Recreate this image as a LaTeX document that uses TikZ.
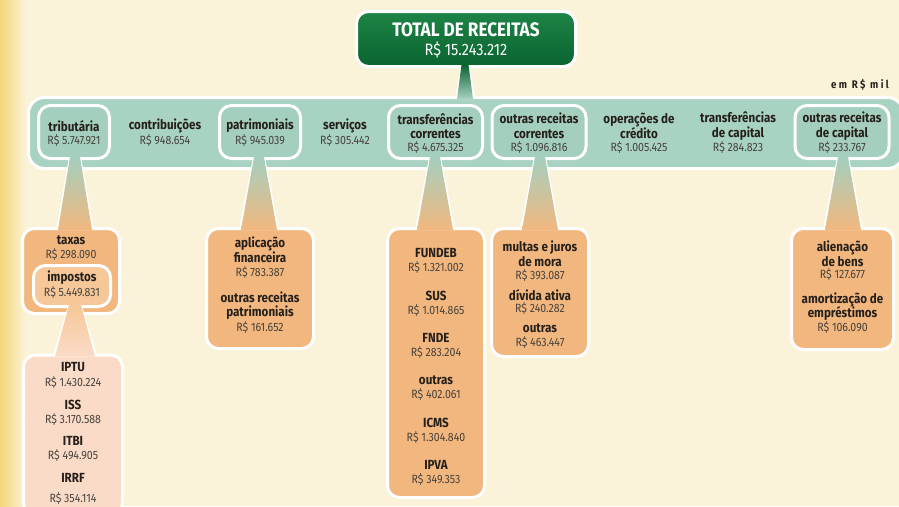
\documentclass[tikz,border=0pt]{standalone}
\usepackage{fontspec}
\setmainfont{Fira Sans}
\newfontfamily\rcfont{Fira Sans}[FakeStretch=0.88]
\usetikzlibrary{calc}
\definecolor{rc_paper}{RGB}{251, 243, 217}
\definecolor{rc_yellow}{RGB}{245, 214, 122}
\definecolor{rc_green}{RGB}{30, 132, 70}
\definecolor{rc_dkgreen}{RGB}{10, 100, 48}
\definecolor{rc_teal}{RGB}{168, 210, 194}
\definecolor{rc_pill}{RGB}{164, 207, 190}
\definecolor{rc_orange}{RGB}{242, 183, 127}
\definecolor{rc_lorange}{RGB}{246, 199, 152}
\definecolor{rc_pink}{RGB}{250, 219, 199}
\definecolor{rc_ink}{RGB}{38, 32, 26}
\tikzstyle{pill}=[rectangle,rounded corners=12pt,fill=rc_pill,draw=white,
  line width=3pt,minimum height=53pt]
\tikzstyle{sub}=[rectangle,rounded corners=12pt,fill=rc_orange,draw=white,
  line width=3pt]
\tikzstyle{lbl}=[inner sep=0pt,align=center,text=rc_ink,
  font=\rcfont\bfseries\fontsize{13.2}{14.5}\selectfont]
\tikzstyle{val}=[inner sep=0pt,text=rc_ink!85,
  font=\rcfont\fontsize{12}{14}\selectfont]
% wedge between two boxes: from, to, x, top half width, bottom half width
\newcommand\funnelpath[6]{let \p1=(#1.south), \p2=(#2.north) in
  ({(#3-#4)*1pt},{\y1+#6}) -- ({(#3+#4)*1pt},{\y1+#6}) --
  ({(#3+#5)*1pt},{\y2-#6}) -- ({(#3-#5)*1pt},{\y2-#6}) -- cycle}
\newcommand\funnel[7]{%
  \path[draw=white,line width=3pt,top color=#6,bottom color=#7]
    \funnelpath{#1}{#2}{#3}{#4}{#5}{0pt};
  \path[top color=#6,bottom color=#7] \funnelpath{#1}{#2}{#3}{#4}{#5}{3pt};}

\begin{document}
\begin{tikzpicture}[x=1pt,y=-1pt]
    \useasboundingbox (0,0) rectangle (899,506);
    \fill[rc_paper] (0,0) rectangle (899,506);
    \shade[left color=rc_yellow,right color=rc_paper] (0,0) rectangle (26,506);
    % boxes
    \node [rectangle,rounded corners=16pt,fill=rc_teal,draw=white,line width=3pt,
      minimum width=875pt,minimum height=71pt] (bar) at (466,133) {};
    \node [rectangle,rounded corners=12pt,top color=rc_green,bottom color=rc_dkgreen,
      draw=white,line width=3pt,minimum width=219pt,minimum height=55pt] (tot) at (466,39) {};
    \node [pill,minimum width=71pt] (trib) at (74,132) {};
    \node [pill,minimum width=81pt] (patr) at (260,132) {};
    \node [pill,minimum width=94pt] (tcor) at (435.5,132) {};
    \node [pill,minimum width=94pt] (orc) at (539,132) {};
    \node [pill,minimum width=94pt] (ocap) at (842,132) {};
    \node [sub,minimum width=97pt,minimum height=85pt] (tax) at (71,271) {};
    \node [sub,fill=rc_lorange,minimum width=77pt,minimum height=41pt] (imp) at (72,286) {};
    \node [sub,fill=rc_pink,minimum width=99pt,minimum height=160pt] (iptu) at (73,435) {};
    \node [sub,minimum width=107pt,minimum height=120pt] (apl) at (260,288.5) {};
    \node [sub,minimum width=97pt,minimum height=269pt] (fund) at (436,363) {};
    \node [sub,minimum width=97pt,minimum height=128pt] (mult) at (540,292.5) {};
    \node [sub,minimum width=102pt,minimum height=121pt] (alien) at (842.5,289) {};
    % wedges
    \funnel{tot}{bar}{465}{3.5}{8}{rc_dkgreen}{rc_teal}
    \funnel{trib}{tax}{75}{5}{17}{rc_pill}{rc_orange}
    \funnel{patr}{apl}{259}{5}{18}{rc_pill}{rc_orange}
    \funnel{tcor}{fund}{435}{5}{18}{rc_pill}{rc_orange}
    \funnel{orc}{mult}{540}{5}{18}{rc_pill}{rc_orange}
    \funnel{ocap}{alien}{843}{5}{18}{rc_pill}{rc_orange}
    \funnel{imp}{iptu}{75}{6}{20}{rc_lorange}{rc_pink}
    % total
    \node [inner sep=0pt,text=white,font=\rcfont\bfseries\fontsize{19.5}{22}\selectfont]
      (tott) at (466,30) {TOTAL DE RECEITAS};
    \node [inner sep=0pt,text=white,font=\rcfont\fontsize{16.5}{18}\selectfont]
      (totv) at (466,50) {R\$ 15.243.212};
    \node [inner sep=0pt,text=rc_ink,font=\rcfont\bfseries\fontsize{11}{12}\selectfont\addfontfeatures{LetterSpace=22}]
      (unit) at (860,85) {em R\$ mil};
    % bar
    \node [lbl] (t1) at (74,126) {tributária};
    \node [val] (v1) at (74,140) {R\$ 5.747.921};
    \node [lbl] (t2) at (165,126) {contribuições};
    \node [val] (v2) at (165,140) {R\$ 948.654};
    \node [lbl] (t3) at (260,126) {patrimoniais};
    \node [val] (v3) at (260,140) {R\$ 945.039};
    \node [lbl] (t4) at (345,126) {serviços};
    \node [val] (v4) at (345,140) {R\$ 305.442};
    \node [lbl] (t5) at (435.5,126) {transferências\\correntes};
    \node [val] (v5) at (435.5,147) {R\$ 4.675.325};
    \node [lbl] (t6) at (539,126) {outras receitas\\correntes};
    \node [val] (v6) at (539,147) {R\$ 1.096.816};
    \node [lbl] (t7) at (639,126) {operações de\\crédito};
    \node [val] (v7) at (639,147) {R\$ 1.005.425};
    \node [lbl] (t8) at (738,126) {transferências\\de capital};
    \node [val] (v8) at (738,147) {R\$ 284.823};
    \node [lbl] (t9) at (842,126) {outras receitas\\de capital};
    \node [val] (v9) at (842,147) {R\$ 233.767};
    % tributaria
    \node [lbl] (a1) at (71,240) {taxas};
    \node [val] (b1) at (71,254) {R\$ 298.090};
    \node [lbl] (a2) at (72,278) {impostos};
    \node [val] (b2) at (72,292) {R\$ 5.449.831};
    \node [lbl] (c1) at (73,367) {IPTU};
    \node [val] (d1) at (73,382) {R\$ 1.430.224};
    \node [lbl] (c2) at (73,405) {ISS};
    \node [val] (d2) at (73,419) {R\$ 3.170.588};
    \node [lbl] (c3) at (73,441) {ITBI};
    \node [val] (d3) at (73,455) {R\$ 494.905};
    \node [lbl] (c4) at (73,478) {IRRF};
    \node [val] (d4) at (73,498) {R\$ 354.114};
    % patrimoniais
    \node [lbl] (e1) at (260,250) {aplicação\\financeira};
    \node [val] (f1) at (260,272) {R\$ 783.387};
    \node [lbl] (e2) at (260,305.5) {outras receitas\\patrimoniais};
    \node [val] (f2) at (260,327) {R\$ 161.652};
    % transferencias correntes
    \node [lbl] (g1) at (436,253) {FUNDEB};
    \node [val] (h1) at (436,267) {R\$ 1.321.002};
    \node [lbl] (g2) at (436,296) {SUS};
    \node [val] (h2) at (436,310) {R\$ 1.014.865};
    \node [lbl] (g3) at (436,338) {FNDE};
    \node [val] (h3) at (436,352) {R\$ 283.204};
    \node [lbl] (g4) at (436,380) {outras};
    \node [val] (h4) at (436,394) {R\$ 402.061};
    \node [lbl] (g5) at (436,423) {ICMS};
    \node [val] (h5) at (436,437) {R\$ 1.304.840};
    \node [lbl] (g6) at (436,465) {IPVA};
    \node [val] (h6) at (436,479) {R\$ 349.353};
    % outras receitas correntes
    \node [lbl] (k1) at (540,254) {multas e juros\\de mora};
    \node [val] (l1) at (540,275) {R\$ 393.087};
    \node [lbl] (k2) at (540,295) {dívida ativa};
    \node [val] (l2) at (540,308) {R\$ 240.282};
    \node [lbl] (k3) at (540,328) {outras};
    \node [val] (l3) at (540,342) {R\$ 463.447};
    % outras receitas de capital
    \node [lbl] (m1) at (842.5,254) {alienação\\de bens};
    \node [val] (n1) at (842.5,274) {R\$ 127.677};
    \node [lbl] (m2) at (842.5,306.5) {amortização de\\empréstimos};
    \node [val] (n2) at (842.5,327) {R\$ 106.090};
\end{tikzpicture}
\end{document}
